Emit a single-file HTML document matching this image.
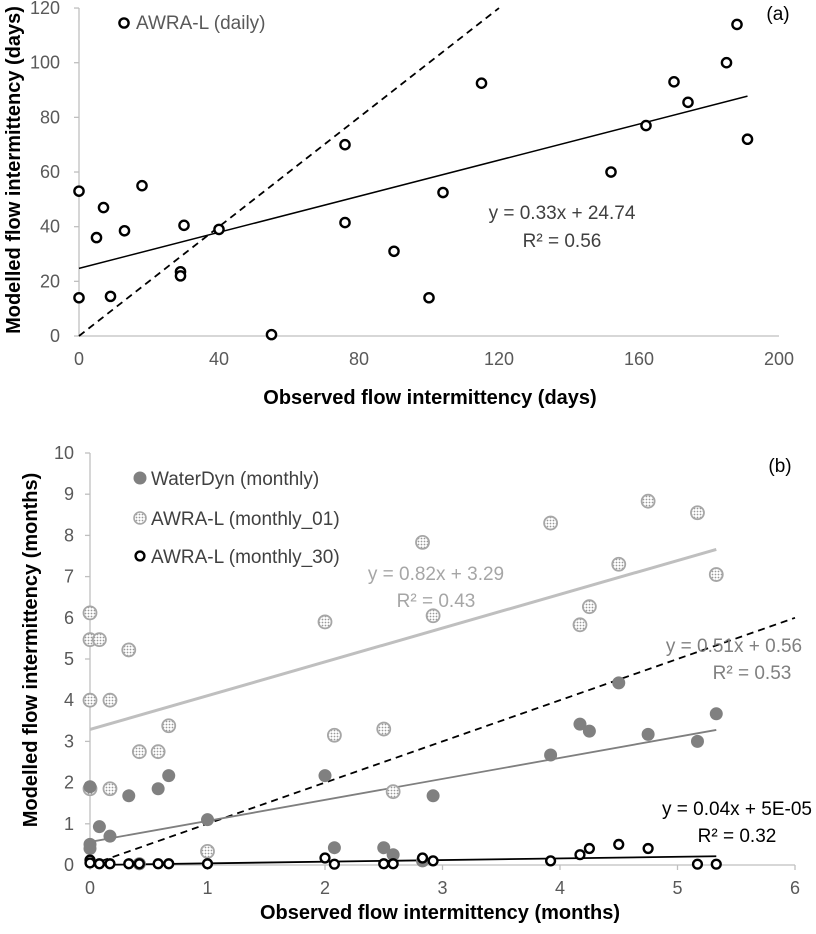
<!DOCTYPE html>
<html><head><meta charset="utf-8"><style>
body{margin:0;background:#fff;}
svg text{font-family:"Liberation Sans",sans-serif;}
</style></head><body>
<svg width="816" height="929" viewBox="0 0 816 929" xmlns="http://www.w3.org/2000/svg">
<defs>
<pattern id="dots" width="3" height="3" patternUnits="userSpaceOnUse"><rect width="3" height="3" fill="#fff"/><circle cx="1.5" cy="1.5" r="0.9" fill="#999"/></pattern>
</defs>
<g id="chartA"></g>
<g id="chartB"></g>
</svg>
<script>
// ---- Chart (a) data ----
const aXTicks = [0, 40, 80, 120, 160, 200];
const aYTicks = [0, 20, 40, 60, 80, 100, 120];
const aObs = [0, 0, 5, 7, 9, 13, 18, 29, 29, 30, 40, 55, 76, 76, 90, 100, 104, 115, 152, 162, 170, 174, 185, 188, 191];
const aMod = [53, 14, 36, 47, 14.5, 38.5, 55, 23.5, 22, 40.5, 39, 0.5, 41.5, 70, 31, 14, 52.5, 92.5, 60, 77, 93, 85.5, 100, 114, 72];
const aTrend = [0.33, 24.74];

// ---- Chart (b) data ----
const bXTicks = [0, 1, 2, 3, 4, 5, 6];
const bYTicks = [0, 1, 2, 3, 4, 5, 6, 7, 8, 9, 10];
const wdX = [0, 0, 0, 0.08, 0.17, 0.33, 0.58, 0.67, 1, 2, 2.08, 2.5, 2.58, 2.83, 2.92, 3.92, 4.17, 4.25, 4.5, 4.75, 5.17, 5.33, 0.42];
const wdY = [0.5, 0.4, 1.9, 0.93, 0.7, 1.68, 1.85, 2.17, 1.1, 2.17, 0.42, 0.42, 0.25, 0.1, 1.68, 2.67, 3.42, 3.25, 4.42, 3.17, 3.0, 3.67, 0.03];
const a01X = [0, 0, 0.08, 0, 0.17, 0.33, 0.67, 0.42, 0.58, 0, 0.17, 1, 2, 2.08, 2.5, 2.58, 2.83, 2.92, 3.92, 4.17, 4.25, 4.5, 4.75, 5.17, 5.33];
const a01Y = [6.12, 5.47, 5.47, 4.0, 4.0, 5.22, 3.38, 2.75, 2.75, 1.85, 1.85, 0.33, 5.9, 3.15, 3.3, 1.78, 7.83, 6.05, 8.3, 5.83, 6.27, 7.3, 8.83, 8.55, 7.05];
const a30X = [0, 0, 0.08, 0.17, 0.33, 0.42, 0.58, 0.67, 1, 2, 2.08, 2.5, 2.58, 2.83, 2.92, 3.92, 4.17, 4.25, 4.5, 4.75, 5.17, 5.33];
const a30Y = [0.12, 0.05, 0.03, 0.03, 0.03, 0.03, 0.03, 0.03, 0.03, 0.17, 0.02, 0.03, 0.03, 0.17, 0.1, 0.1, 0.25, 0.4, 0.5, 0.4, 0.02, 0.02];
const wdTrend = [0.51, 0.56];
const a01Trend = [0.82, 3.29];
const a30Trend = [0.04, 0.00005];

const NS = "http://www.w3.org/2000/svg";
function mk(parent, tag, attrs, text){
  const e = document.createElementNS(NS, tag);
  for (const k in attrs) e.setAttribute(k, attrs[k]);
  if (text !== undefined) e.textContent = text;
  parent.appendChild(e);
  return e;
}
const FS = 19, TS = 18, HS = 20;

// ---------- Chart A ----------
const A = document.getElementById('chartA');
const ax = v => 79 + v * 3.5;
const ay = v => 336 - v * 2.733;
let e;
e = mk(A, 'line', {x1:ax(0), y1:ay(0), x2:ax(0), y2:ay(120), stroke:'#bfbfbf', 'stroke-width':1.3});
 
e = mk(A, 'line', {x1:ax(0), y1:ay(0), x2:ax(200), y2:ay(0), stroke:'#bfbfbf', 'stroke-width':1.3});
 
aYTicks.forEach(t => {
  mk(A, 'line', {x1:ax(0)-5, y1:ay(t), x2:ax(0), y2:ay(t), stroke:'#bfbfbf', 'stroke-width':1.3});
  e = mk(A, 'text', {x:ax(0)-19, y:ay(t)+6, 'text-anchor':'end', 'font-size':TS, fill:'#595959'}, t);
   
});
aXTicks.forEach(t => {
  e = mk(A, 'text', {x:ax(t), y:ay(0)+29, 'text-anchor':'middle', 'font-size':TS, fill:'#595959'}, t);
   
});
e = mk(A, 'line', {x1:ax(0), y1:ay(0), x2:ax(120), y2:ay(120), stroke:'#000', 'stroke-width':1.8, 'stroke-dasharray':'7,5'});
 
e = mk(A, 'line', {x1:ax(0), y1:ay(aTrend[1]), x2:ax(191), y2:ay(aTrend[0]*191+aTrend[1]), stroke:'#000', 'stroke-width':1.5});
 
aObs.forEach((v,i) => {
  e = mk(A, 'circle', {cx:ax(v), cy:ay(aMod[i]), r:4.6, fill:'#fff', stroke:'#000', 'stroke-width':2.4});
   
});
e = mk(A, 'circle', {cx:124, cy:23, r:4.6, fill:'#fff', stroke:'#000', 'stroke-width':2.4});
 
e = mk(A, 'text', {x:136, y:29, 'font-size':FS, fill:'#595959'}, 'AWRA-L (daily)');
 
e = mk(A, 'text', {x:562, y:219, 'text-anchor':'middle', 'font-size':FS, fill:'#404040'}, 'y = 0.33x + 24.74');
 
e = mk(A, 'text', {x:562, y:247, 'text-anchor':'middle', 'font-size':FS, fill:'#404040'}, 'R² = 0.56');
 
e = mk(A, 'text', {x:778, y:20, 'text-anchor':'middle', 'font-size':FS, fill:'#000'}, '(a)');
 
e = mk(A, 'text', {x:430, y:404, 'text-anchor':'middle', 'font-size':HS, 'font-weight':'bold', fill:'#000'}, 'Observed flow intermittency (days)');
 
e = mk(A, 'text', {x:0, y:0, transform:'translate(20,170) rotate(-90)', 'text-anchor':'middle', 'font-size':HS, 'font-weight':'bold', fill:'#000'}, 'Modelled flow intermittency (days)');
 

// ---------- Chart B ----------
const B = document.getElementById('chartB');
const bx = v => 90 + v * 117.5;
const by = v => 865 - v * 41.2;
e = mk(B, 'line', {x1:bx(0), y1:by(0), x2:bx(0), y2:by(10), stroke:'#bfbfbf', 'stroke-width':1.3});
 
e = mk(B, 'line', {x1:bx(0), y1:by(0), x2:bx(6), y2:by(0), stroke:'#bfbfbf', 'stroke-width':1.3});
 
bYTicks.forEach(t => {
  mk(B, 'line', {x1:bx(0)-5, y1:by(t), x2:bx(0), y2:by(t), stroke:'#bfbfbf', 'stroke-width':1.3});
  e = mk(B, 'text', {x:bx(0)-16, y:by(t)+6, 'text-anchor':'end', 'font-size':TS, fill:'#595959'}, t);
   
});
bXTicks.forEach(t => {
  mk(B, 'line', {x1:bx(t), y1:by(0), x2:bx(t), y2:by(0)+5, stroke:'#bfbfbf', 'stroke-width':1.3});
  e = mk(B, 'text', {x:bx(t), y:by(0)+29, 'text-anchor':'middle', 'font-size':TS, fill:'#595959'}, t);
   
});
e = mk(B, 'line', {x1:bx(0), y1:by(0), x2:bx(6), y2:by(6), stroke:'#000', 'stroke-width':1.8, 'stroke-dasharray':'7,5'});
 
function trend(t, col, w, name){
  const el = mk(B, 'line', {x1:bx(0), y1:by(t[1]), x2:bx(5.33), y2:by(t[0]*5.33+t[1]), stroke:col, 'stroke-width':w});
  
  
}
trend(a01Trend, '#bfbfbf', 3, 'b-trendline-awra-01');
trend(wdTrend, '#7f7f7f', 1.8, 'b-trendline-waterdyn');
trend(a30Trend, '#000', 1.8, 'b-trendline-awra-30');
a01X.forEach((v,i) => {
  e = mk(B, 'circle', {cx:bx(v), cy:by(a01Y[i]), r:6.5, fill:'url(#dots)', stroke:'#a6a6a6', 'stroke-width':1.8});
   
});
wdX.forEach((v,i) => {
  e = mk(B, 'circle', {cx:bx(v), cy:by(wdY[i]), r:6.5, fill:'#808080'});
   
});
a30X.forEach((v,i) => {
  e = mk(B, 'circle', {cx:bx(v), cy:by(a30Y[i]), r:4.4, fill:'#fff', stroke:'#000', 'stroke-width':2.4});
   
});
e = mk(B, 'circle', {cx:140, cy:478, r:6.5, fill:'#808080'});
 
e = mk(B, 'text', {x:151, y:485, 'font-size':FS, fill:'#404040'}, 'WaterDyn (monthly)');
 
e = mk(B, 'circle', {cx:140, cy:518, r:6, fill:'url(#dots)', stroke:'#a6a6a6', 'stroke-width':1.6});
 
e = mk(B, 'text', {x:151, y:525, 'font-size':FS, fill:'#404040'}, 'AWRA-L (monthly_01)');
 
e = mk(B, 'circle', {cx:140, cy:556, r:4.4, fill:'#fff', stroke:'#000', 'stroke-width':2.4});
 
e = mk(B, 'text', {x:151, y:563, 'font-size':FS, fill:'#404040'}, 'AWRA-L (monthly_30)');
 
e = mk(B, 'text', {x:436, y:580, 'text-anchor':'middle', 'font-size':FS, fill:'#a6a6a6'}, 'y = 0.82x + 3.29');
 
e = mk(B, 'text', {x:436, y:607, 'text-anchor':'middle', 'font-size':FS, fill:'#a6a6a6'}, 'R² = 0.43');
 
e = mk(B, 'text', {x:734, y:652, 'text-anchor':'middle', 'font-size':FS, fill:'#808080'}, 'y = 0.51x + 0.56');
 
e = mk(B, 'text', {x:752, y:679, 'text-anchor':'middle', 'font-size':FS, fill:'#808080'}, 'R² = 0.53');
 
e = mk(B, 'text', {x:737, y:815, 'text-anchor':'middle', 'font-size':FS, fill:'#000'}, 'y = 0.04x + 5E-05');
 
e = mk(B, 'text', {x:737, y:842, 'text-anchor':'middle', 'font-size':FS, fill:'#000'}, 'R² = 0.32');
 
e = mk(B, 'text', {x:780, y:472, 'text-anchor':'middle', 'font-size':FS, fill:'#000'}, '(b)');
 
e = mk(B, 'text', {x:440, y:919, 'text-anchor':'middle', 'font-size':HS, 'font-weight':'bold', fill:'#000'}, 'Observed flow intermittency (months)');
 
e = mk(B, 'text', {x:0, y:0, transform:'translate(37,650) rotate(-90)', 'text-anchor':'middle', 'font-size':HS, 'font-weight':'bold', fill:'#000'}, 'Modelled flow intermittency (months)');
 
</script>
</body></html>
